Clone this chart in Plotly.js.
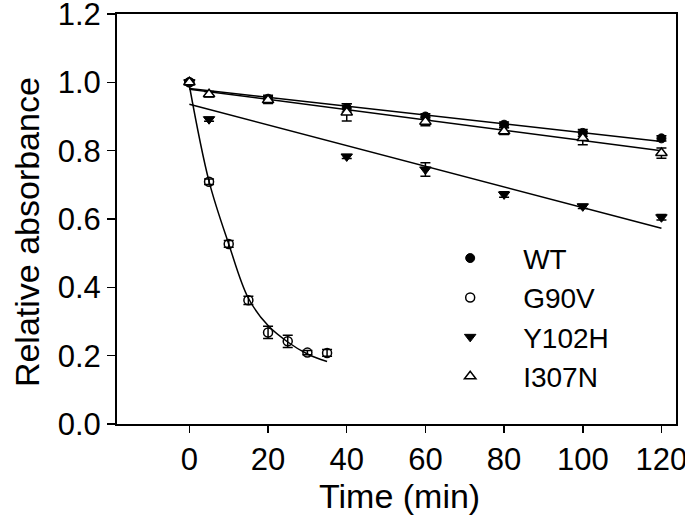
<!DOCTYPE html>
<html>
<head>
<meta charset="utf-8">
<script src="https://cdn.plot.ly/plotly-3.0.1.min.js"></script>
<style>html,body{margin:0;padding:0;background:#fff;}#chart{width:685px;height:532px;}</style>
</head>
<body>
<div id="chart"></div>
<script>
// Measured data
var seriesNames = ["WT", "G90V", "Y102H", "I307N"];
var xTitle = "Time (min)";
var yTitle = "Relative absorbance";

var wtTime = [0, 20, 40, 60, 80, 100, 120];
var wtAbs  = [1.0, 0.952, 0.925, 0.900, 0.876, 0.852, 0.836];
var wtErr  = [0.006, 0.010, 0.012, 0.008, 0.008, 0.010, 0.008];

var g90vTime = [0, 5, 10, 15, 20, 25, 30, 35];
var g90vAbs  = [1.0, 0.709, 0.527, 0.362, 0.268, 0.242, 0.209, 0.208];
var g90vErr  = [0.006, 0.008, 0.010, 0.012, 0.018, 0.018, 0.006, 0.010];

var y102hTime = [0, 5, 40, 60, 80, 100, 120];
var y102hAbs  = [1.0, 0.892, 0.783, 0.745, 0.672, 0.637, 0.605];
var y102hErr  = [0.006, 0.006, 0.006, 0.020, 0.008, 0.006, 0.008];

var i307nTime = [0, 5, 20, 40, 60, 80, 100, 120];
var i307nAbs  = [1.0, 0.965, 0.948, 0.912, 0.885, 0.857, 0.837, 0.793];
var i307nErr  = [0.006, 0.008, 0.010, 0.025, 0.012, 0.010, 0.020, 0.015];

// Fitted curves
var wtFitTime = [0, 120];
var wtFitAbs  = [0.982, 0.827];
var i307nFitTime = [0, 120];
var i307nFitAbs  = [0.980, 0.800];
var y102hFitTime = [0, 120];
var y102hFitAbs  = [0.936, 0.573];
var g90vFitTime = [0, 5, 10, 15, 20, 25, 30, 35];
var g90vFitAbs  = [0.99, 0.71, 0.527, 0.368, 0.288, 0.240, 0.205, 0.183];

var xTickVals = [0, 20, 40, 60, 80, 100, 120];
var yTickVals = [0.0, 0.2, 0.4, 0.6, 0.8, 1.0, 1.2];
var yTickText = ["0.0", "0.2", "0.4", "0.6", "0.8", "1.0", "1.2"];

var FONT = "Liberation Sans, Arial, sans-serif";
var errStyle = function (arr) {
  return {type: "data", array: arr, visible: true, color: "#000", thickness: 1.5, width: 5};
};
var fitLine = function (x, y, shape) {
  return {x: x, y: y, mode: "lines", type: "scatter", showlegend: false, hoverinfo: "skip",
          line: {color: "#000", width: 1.5, shape: shape || "linear", smoothing: 1}};
};

var data = [
  fitLine(wtFitTime, wtFitAbs),
  fitLine(i307nFitTime, i307nFitAbs),
  fitLine(y102hFitTime, y102hFitAbs),
  fitLine(g90vFitTime, g90vFitAbs, "spline"),
  {x: wtTime, y: wtAbs, name: seriesNames[0], type: "scatter", mode: "markers",
   error_y: errStyle(wtErr),
   marker: {symbol: "circle", size: 9, color: "#000", line: {color: "#000", width: 1}}},
  {x: g90vTime, y: g90vAbs, name: seriesNames[1], type: "scatter", mode: "markers",
   error_y: errStyle(g90vErr),
   marker: {symbol: "circle-open", size: 9, color: "#000", line: {color: "#000", width: 1.5}}},
  {x: y102hTime, y: y102hAbs, name: seriesNames[2], type: "scatter", mode: "markers",
   error_y: errStyle(y102hErr),
   marker: {symbol: "triangle-down", size: 10, color: "#000", line: {color: "#000", width: 1}}},
  {x: i307nTime, y: i307nAbs, name: seriesNames[3], type: "scatter", mode: "markers",
   error_y: errStyle(i307nErr),
   marker: {symbol: "triangle-up", size: 10, color: "#fff", line: {color: "#000", width: 1.5}}}
];

var layout = {
  width: 685, height: 532,
  margin: {l: 117, r: 9, t: 14, b: 108},
  paper_bgcolor: "#fff", plot_bgcolor: "#fff",
  font: {family: FONT, color: "#000", size: 31},
  showlegend: true,
  legend: {x: 0.537, y: 0.465, xanchor: "left", yanchor: "top", bgcolor: "rgba(0,0,0,0)",
           font: {family: FONT, size: 28, color: "#000"}, tracegroupgap: 0, itemwidth: 96},
  xaxis: {
    range: [-18.4, 123.7], tickvals: xTickVals, ticks: "outside", ticklen: 7, tickwidth: 1.5,
    tickcolor: "#000", showline: true, linecolor: "#000", linewidth: 2, mirror: true,
    showgrid: false, zeroline: false, tickfont: {family: FONT, size: 31, color: "#000"},
    ticklabeloverflow: "allow"
  },
  yaxis: {
    range: [0, 1.2], tickvals: yTickVals, ticktext: yTickText, ticks: "outside", ticklen: 8,
    tickwidth: 1.5, tickcolor: "#000", showline: true, linecolor: "#000", linewidth: 2,
    mirror: true, showgrid: false, zeroline: false, ticklabeloverflow: "allow",
    tickfont: {family: FONT, size: 31, color: "#000"}
  },
  annotations: [
    {text: xTitle, xref: "paper", yref: "paper", x: 0.506, y: -0.176, xanchor: "center",
     yanchor: "middle", showarrow: false, font: {family: FONT, size: 34, color: "#000"}},
    {text: yTitle, xref: "paper", yref: "paper", x: -0.161, y: 0.468, xanchor: "center",
     yanchor: "middle", textangle: -90, showarrow: false,
     font: {family: FONT, size: 34, color: "#000"}}
  ]
};

Plotly.newPlot("chart", data, layout, {displayModeBar: false, staticPlot: true});
</script>
</body>
</html>
